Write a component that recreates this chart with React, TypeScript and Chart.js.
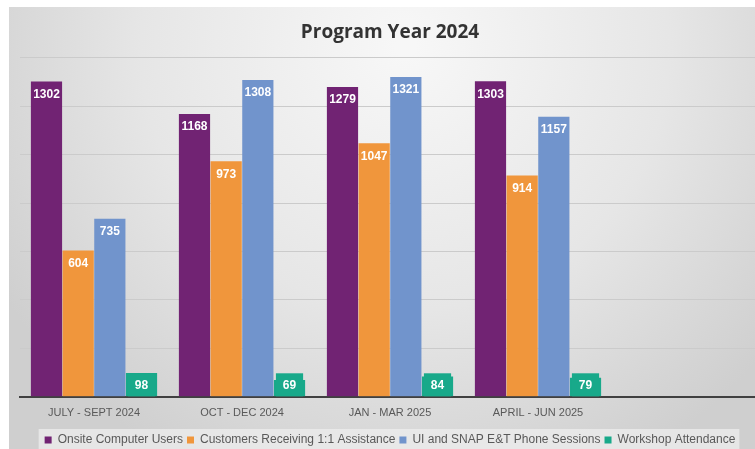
import React, { useEffect, useRef } from "react";
import { Chart, registerables } from "chart.js";

Chart.register(...registerables);

const categories = ["JULY - SEPT 2024", "OCT - DEC 2024", "JAN - MAR 2025", "APRIL - JUN 2025", ""];
const seriesNames = [
  "Onsite Computer Users",
  "Customers Receiving 1:1 Assistance",
  "UI and SNAP E&T Phone Sessions",
  "Workshop Attendance",
];
const onsiteUsers = [1302, 1168, 1279, 1303, null];
const customersAssisted = [604, 973, 1047, 914, null];
const phoneSessions = [735, 1308, 1321, 1157, null];
const workshopAttendance = [98, 69, 84, 79, null];
const yTicks = [0, 200, 400, 600, 800, 1000, 1200, 1400];

const colors = ["#712373", "#F0963C", "#7194CC", "#18A98A"];

const bgPlugin = {
  id: "bgPlugin",
  beforeDraw(chart: any) {
    const { ctx, width, height } = chart;
    ctx.save();
    const g = ctx.createRadialGradient(width * 0.52, 40, 10, width * 0.52, 40, width * 0.62);
    g.addColorStop(0, "#f7f7f7");
    g.addColorStop(0.55, "#e6e6e6");
    g.addColorStop(1, "#cfcfcf");
    ctx.fillStyle = g;
    ctx.fillRect(0, 0, width, height);
    const lg = chart.legend;
    if (lg && lg.legendHitBoxes && lg.legendHitBoxes.length) {
      const boxes = lg.legendHitBoxes;
      const x0 = boxes[0].left - 6;
      const last = boxes[boxes.length - 1];
      const x1 = last.left + last.width + 4;
      const y0 = boxes[0].top - 5;
      const h = boxes[0].height + 10;
      ctx.fillStyle = "rgba(240,240,240,0.7)";
      ctx.fillRect(x0, y0, x1 - x0, h);
    }
    ctx.restore();
  },
};

const labelPlugin = {
  id: "labelPlugin",
  afterDatasetsDraw(chart: any) {
    const { ctx } = chart;
    ctx.save();
    ctx.font = "bold 12px 'Liberation Sans', Arial, sans-serif";
    ctx.textAlign = "center";
    ctx.textBaseline = "middle";
    chart.data.datasets.forEach((ds: any, di: number) => {
      const meta = chart.getDatasetMeta(di);
      meta.data.forEach((bar: any, i: number) => {
        const v = ds.data[i];
        if (v === null || v === undefined) return;
        const w = bar.width;
        if (di === 3) {
          const base = bar.base;
          ctx.fillStyle = colors[3];
          ctx.fillRect(bar.x - w / 2 + 2, base - 23, w - 4, 23);
          ctx.fillStyle = "#ffffff";
          ctx.fillText(String(v), bar.x, base - 11);
        } else {
          ctx.fillStyle = "#ffffff";
          ctx.fillText(String(v), bar.x, bar.y + 13);
        }
      });
    });
    ctx.restore();
  },
};

export default function App() {
  const ref = useRef<HTMLCanvasElement>(null);
  useEffect(() => {
    if (!ref.current) return;
    const data = [onsiteUsers, customersAssisted, phoneSessions, workshopAttendance];
    const chart = new Chart(ref.current, {
      type: "bar",
      data: {
        labels: categories,
        datasets: seriesNames.map((name, i) => ({
          label: name,
          data: data[i] as any,
          backgroundColor: colors[i],
          borderWidth: 0,
          categoryPercentage: 0.856,
          barPercentage: 0.985,
        })),
      },
      options: {
        responsive: false,
        animation: false,
        layout: { padding: { left: 11, right: 11, top: 0, bottom: 0 } },
        plugins: {
          title: {
            display: true,
            text: "Program Year 2024",
            color: "#333333",
            font: { family: "'Open Sans', sans-serif", size: 19, weight: "bold" },
            padding: { top: 14, bottom: 14 },
          },
          legend: {
            display: true,
            position: "bottom",
            labels: {
              boxWidth: 7,
              boxHeight: 7,
              padding: 4,
              color: "#595959",
              font: { family: "'Liberation Sans', Arial, sans-serif", size: 12 },
            },
          },
          tooltip: { enabled: false },
        },
        scales: {
          x: {
            grid: { display: false, drawTicks: false },
            border: { color: "#404040", width: 2 },
            ticks: {
              color: "#595959",
              padding: 10,
              font: { family: "'Liberation Sans', Arial, sans-serif", size: 11 },
            },
          },
          y: {
            min: yTicks[0],
            max: yTicks[yTicks.length - 1],
            afterBuildTicks: (axis: any) => {
              axis.ticks = yTicks.map((v) => ({ value: v }));
            },
            grid: { color: "#cbcbcb", drawTicks: false, lineWidth: 1 },
            border: { display: false },
            ticks: { display: false },
          },
        },
      },
      plugins: [bgPlugin, labelPlugin],
    });
    return () => chart.destroy();
  }, []);
  return (
    <div
      style={{
        position: "fixed",
        top: 7,
        left: 9,
        width: 746,
        height: 442,
        overflow: "hidden",
      }}
    >
      <canvas ref={ref} width={762} height={449} style={{ display: "block" }} />
    </div>
  );
}
